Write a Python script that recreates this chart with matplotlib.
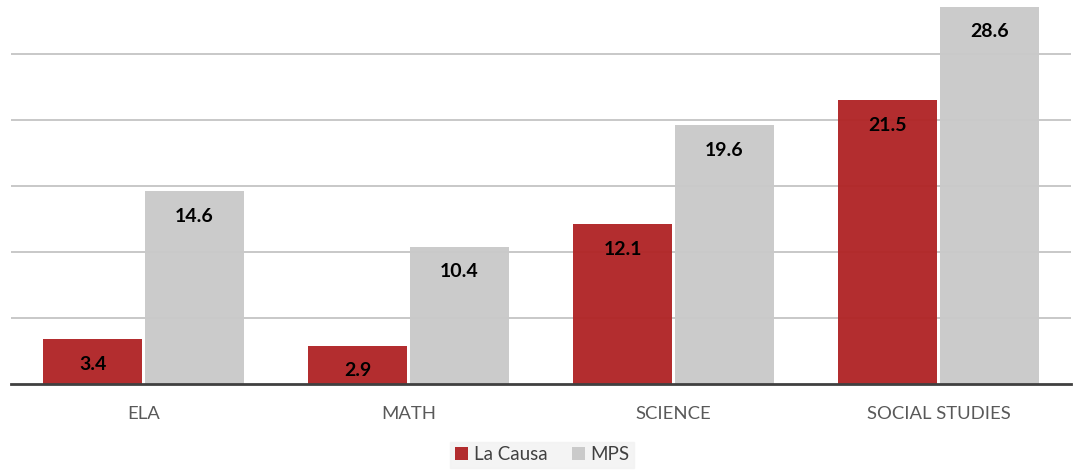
import matplotlib.pyplot as plt
import numpy as np

plt.rcParams["font.family"] = ["Lato", "DejaVu Sans"]

categories = ["ELA", "MATH", "SCIENCE", "SOCIAL STUDIES"]
la_causa = [3.4, 2.9, 12.1, 21.5]
mps = [14.6, 10.4, 19.6, 28.6]
series_names = ["La Causa", "MPS"]

RED = "#b02426"
GRAY = "#c9c9c9"

fig = plt.figure(figsize=(10.78, 4.70), dpi=100)
ax = fig.add_axes([0.0102, 0.183, 0.9833, 0.817])

x = np.arange(len(categories))
w = 0.375
gap = 0.004
b1 = ax.bar(x - w / 2 - gap, la_causa, w, color=RED, alpha=0.96, zorder=2, label=series_names[0])
b2 = ax.bar(x + w / 2 + gap, mps, w, color=GRAY, alpha=0.96, zorder=2, label=series_names[1])

for bars in (b1, b2):
    for b in bars:
        ax.annotate(f"{b.get_height():.1f}", (b.get_x() + b.get_width() / 2, b.get_height()),
                    xytext=(0, -18), textcoords="offset points", ha="center", va="center",
                    fontsize=14, fontweight="bold", color="black", zorder=3)

ax.set_xlim(-0.5, 3.5)
ax.set_ylim(0, 29.1)
ax.set_yticks([5, 10, 15, 20, 25])
ax.yaxis.grid(True, color="#c4c4c4", linewidth=1.3, zorder=1)
ax.set_axisbelow(True)
ax.tick_params(axis="y", left=False, labelleft=False)
ax.tick_params(axis="x", bottom=False, pad=12, labelsize=13.3, labelcolor="#595959")
ax.set_xticks(x)
ax.set_xticklabels(categories)

for s in ["top", "right", "left"]:
    ax.spines[s].set_visible(False)
ax.spines["bottom"].set_color("#404040")
ax.spines["bottom"].set_linewidth(2)
ax.spines["bottom"].set_zorder(4)

leg = fig.legend(loc="center", bbox_to_anchor=(0.503, 0.032), ncol=2, frameon=True,
                 fontsize=13.5, handlelength=0.7, handleheight=0.7, handletextpad=0.3,
                 columnspacing=1.3, borderpad=0.25, borderaxespad=0, fancybox=False)
leg.get_frame().set_facecolor("#f2f2f2")
leg.get_frame().set_edgecolor("#f2f2f2")
for t in leg.get_texts():
    t.set_color("#404040")

fig.savefig("out.png", dpi=100)
